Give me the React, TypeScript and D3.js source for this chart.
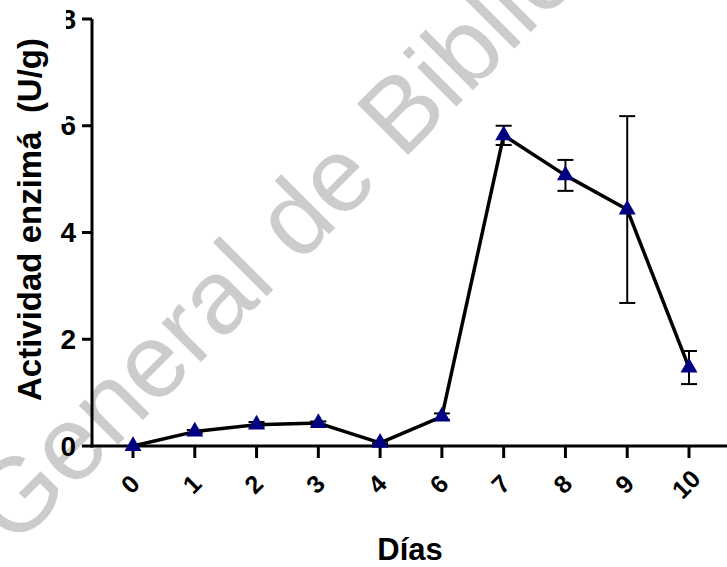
import React from "react";
import * as d3 from "d3";

// Sampling days and mean enzyme activity (U/g) with error bar half-widths
const days = ["0", "1", "2", "3", "4", "6", "7", "8", "9", "10"];
const activity = [0.0, 0.27, 0.4, 0.43, 0.06, 0.55, 5.82, 5.07, 4.43, 1.47];
const errors = [0.0, 0.03, 0.05, 0.03, 0.02, 0.06, 0.18, 0.29, 1.75, 0.31];
const yTicks = [0, 2, 4, 6, 8];

const W = 727;
const H = 567;
const FONT = "'Liberation Sans', Arial, Helvetica, sans-serif";

export default function App() {
  const axisX = 92;
  const axisY = 446;

  const x = d3.scalePoint<string>().domain(days).range([133, 689]);
  const y = d3.scaleLinear().domain([0, 8]).range([446, 19]);

  const line = d3
    .line<number>()
    .x((_, i) => x(days[i]) as number)
    .y((d) => y(d));

  const tri = d3.symbol().type(d3.symbolTriangle).size(125)() as string;

  return (
    <svg
      width={W}
      height={H}
      style={{ position: "absolute", left: 0, top: 0, background: "#fff" }}
      fontFamily={FONT}
    >
      {/* watermark */}
      <text
        transform="translate(14,549) rotate(-45)"
        fontSize={105}
        fill="#cccccc"
        fontFamily={FONT}
      >
        General de Bibliotecas
      </text>

      {/* y axis */}
      <line x1={axisX} x2={axisX} y1={y(8)} y2={axisY + 1.5} stroke="#000" strokeWidth={3} />
      {yTicks.map((t) => (
        <g key={t}>
          <line x1={axisX - 10} x2={axisX} y1={y(t)} y2={y(t)} stroke="#000" strokeWidth={3} />
          <text
            x={axisX - 16}
            y={y(t)}
            textAnchor="end"
            dominantBaseline="central"
            style={{ fontSize: "28px", fontWeight: 700 }}
            fill="#000"
          >
            {t}
          </text>
        </g>
      ))}

      {/* y axis title on a white backing box */}
      <rect x={0} y={0} width={66} height={124} fill="#fff" />
      <text
        transform={`translate(41,${(37 + 402) / 2}) rotate(-90)`}
        textAnchor="middle"
        fill="#000"
        style={{ whiteSpace: "pre", fontSize: "33px", fontWeight: 700 }}
      >
        {"Actividad enzimá  (U/g)"}
      </text>

      {/* x axis */}
      <line x1={axisX - 1.5} x2={W} y1={axisY} y2={axisY} stroke="#000" strokeWidth={3} />
      {days.map((d) => (
        <g key={d}>
          <line
            x1={x(d) as number}
            x2={x(d) as number}
            y1={axisY}
            y2={axisY + 12}
            stroke="#000"
            strokeWidth={3}
          />
          <text
            transform={`translate(${(x(d) as number) - 3},484) rotate(-45)`}
            textAnchor="middle"
            dominantBaseline="central"
            style={{ fontSize: "25px", fontWeight: 700 }}
            fill="#000"
          >
            {d}
          </text>
        </g>
      ))}
      <text x={410} y={560} textAnchor="middle" style={{ fontSize: "31px", fontWeight: 700 }} fill="#000">
        Días
      </text>

      {/* error bars */}
      {days.map((d, i) => {
        const cx = x(d) as number;
        const hi = y(activity[i] + errors[i]);
        const lo = y(Math.max(0, activity[i] - errors[i]));
        if (errors[i] === 0) return null;
        return (
          <g key={"e" + d} stroke="#000" strokeWidth={2}>
            <line x1={cx} x2={cx} y1={hi} y2={lo} />
            <line x1={cx - 8} x2={cx + 8} y1={hi} y2={hi} />
            <line x1={cx - 8} x2={cx + 8} y1={lo} y2={lo} />
          </g>
        );
      })}

      {/* mean line */}
      <path d={line(activity) as string} fill="none" stroke="#000" strokeWidth={3.5} strokeLinejoin="round" />

      {/* markers */}
      {days.map((d, i) => (
        <path
          key={"m" + d}
          d={tri}
          transform={`translate(${x(d)},${y(activity[i])})`}
          fill="#000080"
        />
      ))}
    </svg>
  );
}
